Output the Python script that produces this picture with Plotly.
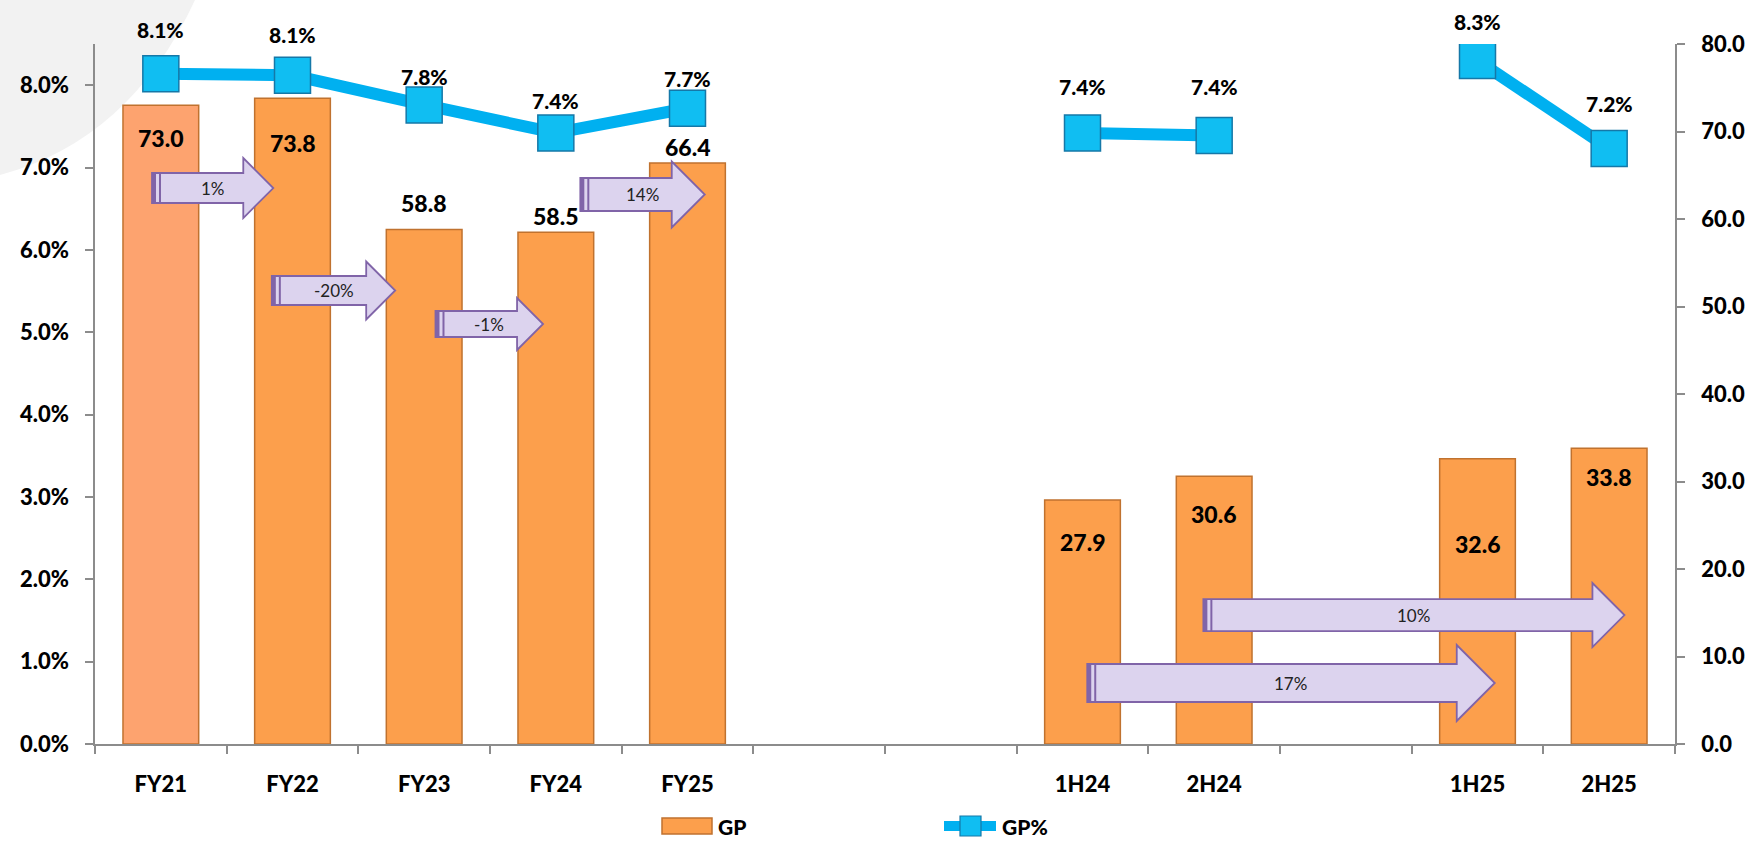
import plotly.graph_objects as go

# ---------------- data ----------------
categories = ["FY21", "FY22", "FY23", "FY24", "FY25", "", "", "1H24", "2H24", "", "1H25", "2H25"]
gp_values = [73.0, 73.8, 58.8, 58.5, 66.4, None, None, 27.9, 30.6, None, 32.6, 33.8]
gp_labels = ["73.0", "73.8", "58.8", "58.5", "66.4", "", "", "27.9", "30.6", "", "32.6", "33.8"]
gp_label_y = [69.3, 68.7, 61.8, 60.4, 68.25, None, None, 23.05, 26.25, None, 22.9, 30.5]
gp_pct = [8.14, 8.12, 7.76, 7.42, 7.72, None, None, 7.42, 7.39, None, 8.30, 7.23]
gp_pct_labels = ["8.1%", "8.1%", "7.8%", "7.4%", "7.7%", "", "", "7.4%", "7.4%", "", "8.3%", "7.2%"]
gp_pct_label_y = [8.67, 8.61, 8.11, 7.81, 8.08, None, None, 7.98, 7.98, None, 8.77, 7.78]

left_ticks = [0, 1, 2, 3, 4, 5, 6, 7, 8]
right_ticks = [0, 10, 20, 30, 40, 50, 60, 70, 80]

growth_labels = ["1%", "-20%", "-1%", "14%", "10%", "17%"]
growth_from = [-0.067, 0.843, 2.086, 3.186, 7.918, 7.036]
growth_to = [0.854, 1.780, 2.903, 4.131, 11.116, 10.131]
growth_y = [63.54, 51.83, 48.0, 62.8, 14.74, 6.97]
growth_size = [15, 14.5, 13, 16.5, 16, 19]  # body half-height in px

# ---------------- layout geometry ----------------
W, H = 1752, 842
ML, MR, MT, MB = 95, 77, 44, 98
PW, PH = W - ML - MR, H - MT - MB
NCAT = len(categories)
XR = [-0.5, NCAT - 0.5]
YR_RIGHT = [0, 80]
YR_LEFT = [0, 8.5]
px_per_x = PW / (XR[1] - XR[0])
px_per_y = PH / (YR_RIGHT[1] - YR_RIGHT[0])

def px2paper(px, py):
    return (px - ML) / PW, (H - MB - py) / PH

FONT = "Lato, Calibri, Carlito, Arial, sans-serif"
BOLD = 900
xs = list(range(NCAT))

bar_colors = ["#FDA36F"] + ["#FC9F4C"] * (NCAT - 1)

fig = go.Figure()
fig.add_trace(go.Bar(
    x=xs, y=gp_values, name="GP", yaxis="y", width=0.575,
    marker=dict(color=bar_colors, line=dict(color="#C0722F", width=1.5)),
    showlegend=False, hoverinfo="skip",
))
fig.add_trace(go.Scatter(
    x=xs, y=gp_pct, name="GP%", yaxis="y2", mode="lines+markers",
    connectgaps=False,
    line=dict(color="#00B0F0", width=12),
    marker=dict(symbol="square", size=36, color="#10BEF2",
                line=dict(color="#1578A8", width=1.5)),
    showlegend=False, hoverinfo="skip",
))

annotations = []
shapes = []

def ann(**kw):
    kw.setdefault("showarrow", False)
    kw.setdefault("xanchor", "center")
    kw.setdefault("yanchor", "middle")
    annotations.append(kw)

# bar value labels
for i, (t, yv) in enumerate(zip(gp_labels, gp_label_y)):
    if yv is None or not t:
        continue
    ann(x=xs[i], y=yv, xref="x", yref="y", text=t,
        font=dict(family=FONT, size=23, color="#000", weight=BOLD))
# percentage labels (paper y so labels above the axis top stay visible)
for i, (t, yv) in enumerate(zip(gp_pct_labels, gp_pct_label_y)):
    if yv is None or not t:
        continue
    yp = (yv - YR_LEFT[0]) / (YR_LEFT[1] - YR_LEFT[0])
    ann(x=xs[i], y=yp, xref="x", yref="paper", text=t,
        font=dict(family=FONT, size=21, color="#000", weight=BOLD))

# growth arrows
for lab, x0, x1, yc, s in zip(growth_labels, growth_from, growth_to, growth_y, growth_size):
    b = s / px_per_y
    h = 2 * s / px_per_y
    xh = x1 - 2 * s / px_per_x
    path = (f"M {x0},{yc-b} L {xh},{yc-b} L {xh},{yc-h} L {x1},{yc} "
            f"L {xh},{yc+h} L {xh},{yc+b} L {x0},{yc+b} Z")
    shapes.append(dict(type="path", path=path, xref="x", yref="y",
                       fillcolor="#DCD3EE", line=dict(color="#8064A8", width=1.8), layer="above"))
    shapes.append(dict(type="rect", xref="x", yref="y", x0=x0, x1=x0 + 4 / px_per_x,
                       y0=yc - b, y1=yc + b, fillcolor="#8064A8", line=dict(width=0), layer="above"))
    shapes.append(dict(type="rect", xref="x", yref="y", x0=x0 + 7 / px_per_x, x1=x0 + 9 / px_per_x,
                       y0=yc - b, y1=yc + b, fillcolor="#8064A8", line=dict(width=0), layer="above"))
    ann(x=(x0 + x1) / 2, y=yc, xref="x", yref="y", text=lab,
        font=dict(family=FONT, size=17, color="#222"))

# decorative light-gray curve at top-left
c0 = px2paper(0, 175)
cq = px2paper(130, 140)
c1 = px2paper(195, 0)
corner = px2paper(0, 0)
shapes.append(dict(type="path", xref="paper", yref="paper", layer="below",
                   path=f"M {c0[0]},{c0[1]} Q {cq[0]},{cq[1]} {c1[0]},{c1[1]} L {corner[0]},{corner[1]} Z",
                   fillcolor="#F2F2F2", line=dict(width=0)))

# custom legend
LEG_Y = 826
lx0, ly0 = px2paper(662, LEG_Y + 8)
lx1, ly1 = px2paper(712, LEG_Y - 8)
shapes.append(dict(type="rect", xref="paper", yref="paper", x0=lx0, x1=lx1, y0=ly0, y1=ly1,
                   fillcolor="#FC9F4C", line=dict(color="#C0722F", width=1.5)))
tx, ty = px2paper(717, LEG_Y)
ann(x=tx, y=ty, xref="paper", yref="paper", text="GP", xanchor="left", borderpad=0,
    font=dict(family=FONT, size=21, color="#000", weight=BOLD))
a0, ay = px2paper(944, LEG_Y)
a1, _ = px2paper(996, LEG_Y)
shapes.append(dict(type="line", xref="paper", yref="paper", x0=a0, x1=a1, y0=ay, y1=ay,
                   line=dict(color="#00B0F0", width=10)))
s0, sy0 = px2paper(960, LEG_Y + 10)
s1, sy1 = px2paper(981, LEG_Y - 10)
shapes.append(dict(type="rect", xref="paper", yref="paper", x0=s0, x1=s1, y0=sy0, y1=sy1,
                   fillcolor="#10BEF2", line=dict(color="#1578A8", width=1.2)))
tx2, _ = px2paper(1001, LEG_Y)
ann(x=tx2, y=ty, xref="paper", yref="paper", text="GP%", xanchor="left", borderpad=0,
    font=dict(family=FONT, size=21, color="#000", weight=BOLD))

axis_gray = "#8C8C8C"
fig.update_layout(
    width=W, height=H,
    margin=dict(l=ML, r=MR, t=MT, b=MB, autoexpand=False),
    paper_bgcolor="white", plot_bgcolor="rgba(0,0,0,0)",
    xaxis=dict(range=XR, tickmode="array", tickvals=xs, ticktext=categories,
               ticks="", showgrid=False, zeroline=False,
               showline=True, linecolor=axis_gray, linewidth=1.5,
               tickfont=dict(family=FONT, size=22, color="#000", weight=BOLD),
               ticklabelstandoff=20,
               minor=dict(tickmode="array", tickvals=[i - 0.5 for i in range(NCAT + 1)],
                          ticks="outside", ticklen=8, tickcolor=axis_gray, tickwidth=1.5,
                          showgrid=False)),
    yaxis=dict(range=YR_RIGHT, side="right", tickmode="array", tickvals=right_ticks,
               ticktext=[f"{v:.1f}" for v in right_ticks],
               showgrid=False, zeroline=False, showline=True, linecolor=axis_gray, linewidth=1.5,
               ticks="outside", ticklen=8, tickcolor=axis_gray, tickwidth=1.5,
               ticklabelstandoff=12,
               tickfont=dict(family=FONT, size=22, color="#000", weight=BOLD)),
    yaxis2=dict(range=YR_LEFT, side="left", overlaying="y", tickmode="array", tickvals=left_ticks,
                ticktext=[f"{v:.1f}%" for v in left_ticks],
                showgrid=False, zeroline=False, showline=True, linecolor=axis_gray, linewidth=1.5,
                ticks="outside", ticklen=8, tickcolor=axis_gray, tickwidth=1.5,
                ticklabelstandoff=12,
                tickfont=dict(family=FONT, size=22, color="#000", weight=BOLD)),
    shapes=shapes,
    annotations=annotations,
    showlegend=False,
)

fig.write_html("out.html")
